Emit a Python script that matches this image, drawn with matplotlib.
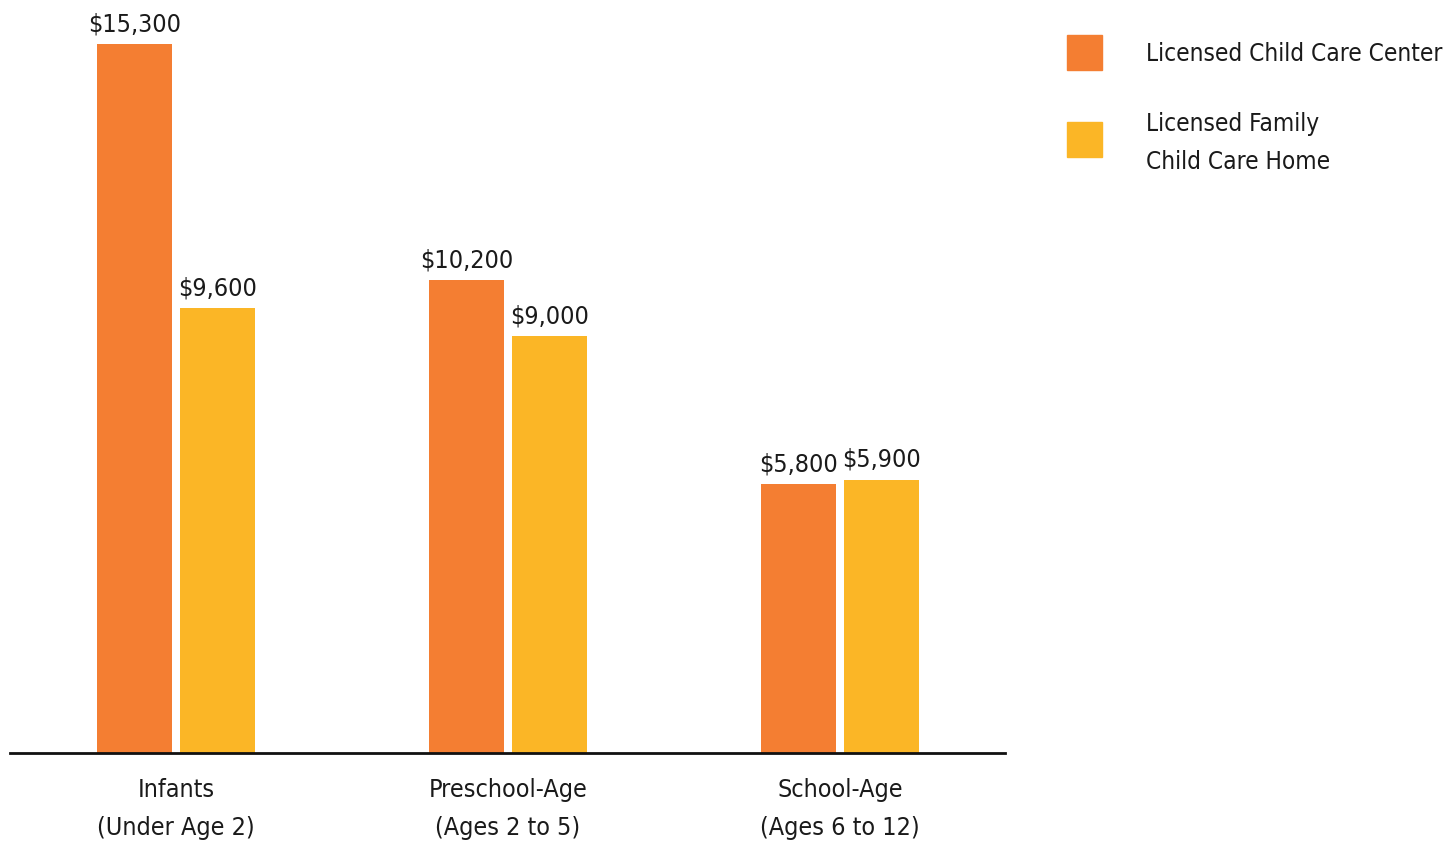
import matplotlib.pyplot as plt
from matplotlib.patches import Rectangle

categories = ["Infants\n(Under Age 2)", "Preschool-Age\n(Ages 2 to 5)", "School-Age\n(Ages 6 to 12)"]
center_costs = [15300, 10200, 5800]
family_costs = [9600, 9000, 5900]
series_names = ["Licensed Child Care Center", "Licensed Family\nChild Care Home"]

orange = "#F47E32"
yellow = "#FBB626"

plt.rcParams['font.family'] = ['DejaVu Sans']
plt.rcParams['font.stretch'] = 'condensed'

W, H = 1449, 844
fig = plt.figure(figsize=(W / 100, H / 100), dpi=100)
ax = fig.add_axes([10 / W, (H - 753) / H, 995 / W, 753 / H])

x = list(range(len(categories)))
bw = 0.226
off = 0.124
b1 = ax.bar([i - off for i in x], center_costs, width=bw, color=orange)
b2 = ax.bar([i + off for i in x], family_costs, width=bw, color=yellow)

for bars, vals in [(b1, center_costs), (b2, family_costs)]:
    for b, v in zip(bars, vals):
        ax.text(b.get_x() + b.get_width() / 2, v + 170, f"${v:,}",
                ha='center', va='bottom', fontsize=18, color='#1a1a1a')

ax.set_xlim(-0.5, 2.497)
ax.set_ylim(0, 16250)
ax.set_xticks(x)
ax.set_xticklabels(categories, fontsize=18, color='#1a1a1a', linespacing=1.75)
ax.tick_params(axis='x', length=0, pad=18)
ax.set_yticks([])
for s in ['top', 'right', 'left']:
    ax.spines[s].set_visible(False)
ax.spines['bottom'].set_linewidth(2)
ax.spines['bottom'].set_color('#111111')

# legend drawn by hand in figure pixels
for (y0, col, name, ty) in [(35, orange, series_names[0], 54), (122, yellow, series_names[1], 143)]:
    fig.add_artist(Rectangle((1067 / W, (H - y0 - 35) / H), 35 / W, 35 / H,
                             transform=fig.transFigure, color=col))
    fig.text(1146 / W, (H - ty) / H, name, fontsize=17.5, va='center', ha='left',
             color='#1a1a1a', linespacing=1.75)

fig.savefig("out.png", dpi=100, facecolor='white')
